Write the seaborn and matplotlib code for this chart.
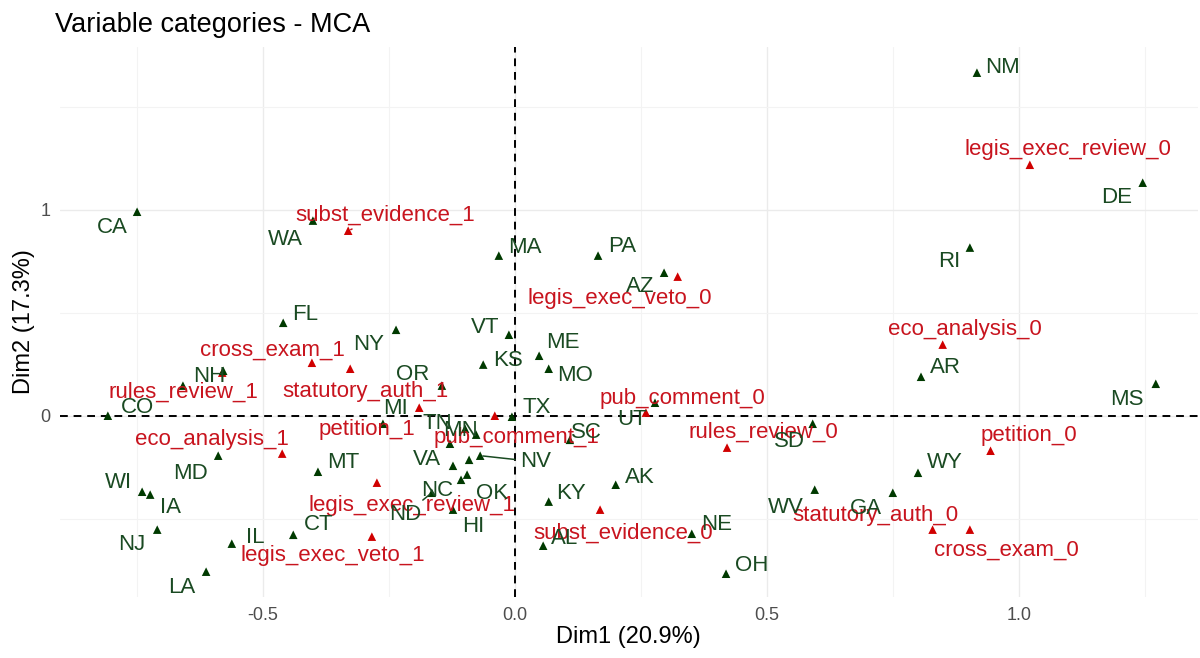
import matplotlib
matplotlib.use("Agg")
import matplotlib.pyplot as plt
import seaborn as sns
import pandas as pd
from matplotlib.ticker import MultipleLocator, FixedLocator

# ---------------- data ----------------
state_names = ["NM", "DE", "RI", "CA", "WA", "MA", "PA", "AZ", "FL", "NY", "VT", "ME", "KS", "MO",
               "NH", "OR", "CO", "MI", "TN", "TX", "MN", "SC", "UT", "NV", "VA", "MT", "MD", "WI",
               "IA", "NC", "OK", "ND", "HI", "KY", "AK", "AL", "NJ", "IL", "CT", "LA", "NE", "OH",
               "SD", "WV", "GA", "WY", "AR", "MS", "ID", "IN", "DC"]
state_dim1 = [0.917, 1.246, 0.903, -0.750, -0.401, -0.032, 0.165, 0.296, -0.460, -0.236, -0.012, 0.048,
              -0.063, 0.067, -0.579, -0.145, -0.808, -0.262, -0.099, -0.006, -0.077, 0.109, 0.278,
              -0.069, -0.123, -0.391, -0.589, -0.740, -0.724, -0.107, -0.095, -0.165, -0.123, 0.067,
              0.200, 0.056, -0.710, -0.562, -0.440, -0.613, 0.351, 0.419, 0.591, 0.595, 0.750, 0.800,
              0.806, 1.272, -0.659, -0.129, -0.091]
state_dim2 = [1.665, 1.131, 0.816, 0.990, 0.947, 0.777, 0.777, 0.694, 0.451, 0.417, 0.393, 0.291,
              0.248, 0.228, 0.218, 0.146, 0.000, -0.039, -0.063, -0.005, -0.092, -0.117, 0.063,
              -0.194, -0.243, -0.272, -0.194, -0.369, -0.383, -0.311, -0.286, -0.374, -0.456, -0.417,
              -0.335, -0.631, -0.553, -0.621, -0.578, -0.757, -0.573, -0.767, -0.039, -0.359, -0.374,
              -0.277, 0.189, 0.155, 0.146, -0.136, -0.214]
unlabelled_states = ["ID", "IN", "DC"]

var_names = ["subst_evidence_1", "legis_exec_review_0", "legis_exec_veto_0", "eco_analysis_0",
             "cross_exam_1", "statutory_auth_1", "rules_review_1", "pub_comment_0", "rules_review_0",
             "petition_0", "eco_analysis_1", "petition_1", "pub_comment_1", "legis_exec_review_1",
             "subst_evidence_0", "statutory_auth_0", "cross_exam_0", "legis_exec_veto_1"]
var_dim1 = [-0.331, 1.022, 0.323, 0.849, -0.403, -0.327, -0.581, 0.260, 0.421, 0.944, -0.462,
            -0.190, -0.040, -0.274, 0.169, 0.829, 0.903, -0.284]
var_dim2 = [0.898, 1.218, 0.675, 0.345, 0.257, 0.228, 0.209, 0.015, -0.155, -0.170, -0.184,
            0.039, 0.000, -0.325, -0.456, -0.553, -0.553, -0.587]

title = "Variable categories - MCA"
xlabel = "Dim1 (20.9%)"
ylabel = "Dim2 (17.3%)"

# ---------------- layout: label offsets in output pixels (dx right, dy down) ----------------
label_offsets = {
    "NM": (26, -5), "DE": (-26, 15), "RI": (-21, 14), "CA": (-25, 16), "WA": (-28, 19),
    "MA": (26, -8), "PA": (24, -9), "AZ": (-24, 14), "FL": (22, -8), "NY": (-27, 15),
    "VT": (-24, -7), "ME": (24, -13), "KS": (25, -4), "MO": (26, 7), "NH": (-14, 6),
    "OR": (-29, -11), "CO": (30, -8), "MI": (13, -15), "TN": (-28, -5), "TX": (25, -9),
    "MN": (-16, -4), "SC": (17, -7), "UT": (-23, 17), "NV": (55, 6), "VA": (-26, -6),
    "MT": (25, -9), "MD": (-28, 18), "WI": (-24, -9), "IA": (20, 13), "NC": (-24, 11),
    "OK": (25, 19), "ND": (-27, 22), "HI": (20, 17), "KY": (22, -8), "AK": (24, -7),
    "AL": (21, -7), "NJ": (-25, 15), "IL": (23, -6), "CT": (25, -10), "LA": (-24, 16),
    "NE": (25, -9), "OH": (26, -8), "SD": (-23, 18), "WV": (-29, 18), "GA": (-27, 16),
    "WY": (27, -10), "AR": (24, -9), "MS": (-29, 16),
    "subst_evidence_1": (37, -16), "legis_exec_review_0": (38, -15),
    "legis_exec_veto_0": (-58, 22), "eco_analysis_0": (22, -15), "cross_exam_1": (-39, -13),
    "statutory_auth_1": (15, 23), "rules_review_1": (-39, 20), "pub_comment_0": (37, -14),
    "rules_review_0": (36, -15), "petition_0": (38, -15), "eco_analysis_1": (-70, -14),
    "petition_1": (-52, 22), "pub_comment_1": (22, 22), "legis_exec_review_1": (35, 23),
    "subst_evidence_0": (23, 24), "statutory_auth_0": (-57, -14), "cross_exam_0": (36, 21),
    "legis_exec_veto_1": (-39, 19),
}
with_segment = {"NV", "ND", "subst_evidence_1"}

state_col_pt, state_col_txt = "#003a00", "#1a4a22"
var_col_pt, var_col_txt = "#d00000", "#c8141e"

states = pd.DataFrame({"name": state_names, "Dim1": state_dim1, "Dim2": state_dim2, "kind": "state"})
variables = pd.DataFrame({"name": var_names, "Dim1": var_dim1, "Dim2": var_dim2, "kind": "var"})
df = pd.concat([variables, states], ignore_index=True)

sns.set_style("white")
plt.rcParams["font.family"] = ["Liberation Sans", "DejaVu Sans"]

fig, ax = plt.subplots(figsize=(12, 6.58), dpi=100)
fig.subplots_adjust(left=0.05, right=0.998, top=0.929, bottom=0.093)

sns.scatterplot(data=df, x="Dim1", y="Dim2", hue="kind",
                palette={"state": state_col_pt, "var": var_col_pt},
                marker="^", s=38, edgecolor="none", legend=False, ax=ax, zorder=3)

ax.set_xlim(-0.903, 1.355)
ax.set_ylim(-0.879, 1.791)

# grid (ggplot theme_minimal style)
ax.xaxis.set_major_locator(FixedLocator([-0.5, 0.0, 0.5, 1.0]))
ax.xaxis.set_minor_locator(FixedLocator([-0.75, -0.25, 0.25, 0.75, 1.25]))
ax.yaxis.set_major_locator(FixedLocator([0, 1]))
ax.yaxis.set_minor_locator(FixedLocator([-0.5, 0.5, 1.5]))
ax.grid(which="major", color="#EBEBEB", lw=1.0, zorder=0)
ax.grid(which="minor", color="#F3F3F3", lw=0.8, zorder=0)
ax.set_axisbelow(True)
for sp in ax.spines.values():
    sp.set_visible(False)
ax.tick_params(axis="both", which="major", length=4, width=1, color="#333333",
               labelsize=13, labelcolor="#4D4D4D", pad=3)
ax.tick_params(axis="both", which="minor", length=0)
ax.set_xticklabels(["-0.5", "0.0", "0.5", "1.0"])
ax.set_yticklabels(["0", "1"])

ax.axhline(0, color="black", ls=(0, (4, 3)), lw=1.4, zorder=2)
ax.axvline(0, color="black", ls=(0, (4, 3)), lw=1.4, zorder=2)

def put_labels(names, xs, ys, col):
    for n, x, y in zip(names, xs, ys):
        if n in unlabelled_states:
            continue
        dx, dy = label_offsets.get(n, (20, -10))
        kw = {}
        if n in with_segment:
            kw["arrowprops"] = dict(arrowstyle="-", color=col, lw=1.1, shrinkA=1, shrinkB=2)
        ax.annotate(n, xy=(x, y), xytext=(dx, -dy), textcoords="offset pixels",
                    ha="center", va="center", fontsize=16, color=col, zorder=4, **kw)

put_labels(var_names, var_dim1, var_dim2, var_col_txt)
put_labels(state_names, state_dim1, state_dim2, state_col_txt)

ax.set_xlabel(xlabel, fontsize=17, color="black", labelpad=2)
ax.set_ylabel(ylabel, fontsize=17, color="black", labelpad=4)
fig.text(0.046, 0.962, title, fontsize=19.5, color="black", ha="left", va="center")

fig.savefig("out.png", dpi=100)
